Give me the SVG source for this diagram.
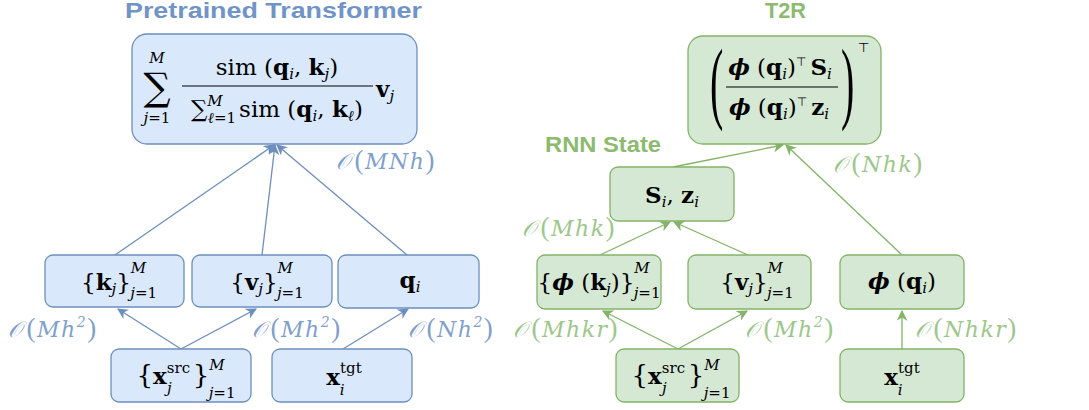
<svg xmlns="http://www.w3.org/2000/svg" width="1089" height="410" viewBox="0 0 1089 410">
<defs>
<style>
.bn{fill:#dae8fc;stroke:#6c8ebf;stroke-width:1.3}
.gn{fill:#d5e8d4;stroke:#82b366;stroke-width:1.3}
.m{font-family:"DejaVu Serif","Liberation Serif",serif;fill:#000;font-size:23px}
.c{text-anchor:middle}
.b{font-weight:bold}
.it{font-style:italic}
.s{font-size:15px}
.t{font-family:"DejaVu Sans",sans-serif;font-size:12px;font-style:normal;font-weight:normal}
.bl{stroke:#6c8ebf;stroke-width:1.3;fill:none}
.gl{stroke:#82b366;stroke-width:1.3;fill:none}
.lb{font-family:"DejaVu Serif","Liberation Serif",serif;font-size:22px;font-style:italic;fill:#7f9fcc;letter-spacing:1.5px}
.lg{font-family:"DejaVu Serif","Liberation Serif",serif;font-size:22px;font-style:italic;fill:#9cc78a;letter-spacing:1.5px}
.p{font-size:27px;font-style:normal;font-family:"Liberation Serif",serif}
.bp{font-family:"Liberation Serif",serif;font-size:40px;fill:#000}
.title{font-family:"Liberation Sans",Arial,sans-serif;font-weight:bold;font-size:22px}
</style>
<marker id="ab" viewBox="0 0 10 10" refX="9" refY="5" markerWidth="11" markerHeight="11" markerUnits="userSpaceOnUse" orient="auto"><path d="M0,0 L10,5 L0,10 L3,5 z" fill="#6c8ebf"/></marker>
<marker id="ag" viewBox="0 0 10 10" refX="9" refY="5" markerWidth="11" markerHeight="11" markerUnits="userSpaceOnUse" orient="auto"><path d="M0,0 L10,5 L0,10 L3,5 z" fill="#82b366"/></marker>
</defs>

<text class="title" x="125" y="18" textLength="297" lengthAdjust="spacingAndGlyphs" fill="#7094c8">Pretrained Transformer</text>
<text class="title" x="765" y="18" textLength="41" lengthAdjust="spacingAndGlyphs" fill="#8cbb70">T2R</text>
<text class="title" x="545" y="152" textLength="116" lengthAdjust="spacingAndGlyphs" fill="#8cbb70">RNN State</text>

<g id="connectors">
<line class="bl" x1="115" y1="255" x2="274" y2="145" marker-end="url(#ab)"/>
<line class="bl" x1="262" y1="255" x2="275" y2="145" marker-end="url(#ab)"/>
<line class="bl" x1="407" y1="255" x2="277" y2="145" marker-end="url(#ab)"/>
<line class="bl" x1="181" y1="349" x2="118" y2="309" marker-end="url(#ab)"/>
<line class="bl" x1="181" y1="349" x2="256" y2="309" marker-end="url(#ab)"/>
<line class="bl" x1="343" y1="349" x2="408" y2="309" marker-end="url(#ab)"/>
<line class="gl" x1="673" y1="167" x2="783" y2="145" marker-end="url(#ag)"/>
<line class="gl" x1="902" y1="255" x2="786" y2="145" marker-end="url(#ag)"/>
<line class="gl" x1="600" y1="255" x2="670" y2="222" marker-end="url(#ag)"/>
<line class="gl" x1="748" y1="255" x2="674" y2="222" marker-end="url(#ag)"/>
<line class="gl" x1="678" y1="349" x2="603" y2="311" marker-end="url(#ag)"/>
<line class="gl" x1="678" y1="349" x2="747" y2="311" marker-end="url(#ag)"/>
<line class="gl" x1="902" y1="349" x2="902" y2="311" marker-end="url(#ag)"/>
</g>

<g id="labels">
<text class="lb" x="336" y="169">𝒪<tspan class="p" dx="3">(</tspan>MNh<tspan class="p">)</tspan></text>
<text class="lb" x="8" y="337">𝒪<tspan class="p" dx="3">(</tspan>Mh<tspan font-size="14" dy="-10">2</tspan><tspan class="p" dy="10">)</tspan></text>
<text class="lb" x="252" y="337">𝒪<tspan class="p" dx="3">(</tspan>Mh<tspan font-size="14" dy="-10">2</tspan><tspan class="p" dy="10">)</tspan></text>
<text class="lb" x="408" y="337">𝒪<tspan class="p" dx="3">(</tspan>Nh<tspan font-size="14" dy="-10">2</tspan><tspan class="p" dy="10">)</tspan></text>
<text class="lg" x="833" y="172">𝒪<tspan class="p" dx="3">(</tspan>Nhk<tspan class="p">)</tspan></text>
<text class="lg" x="522" y="236">𝒪<tspan class="p" dx="3">(</tspan>Mhk<tspan class="p">)</tspan></text>
<text class="lg" x="513" y="337">𝒪<tspan class="p" dx="3">(</tspan>Mhkr<tspan class="p">)</tspan></text>
<text class="lg" x="745" y="337">𝒪<tspan class="p" dx="3">(</tspan>Mh<tspan font-size="14" dy="-10">2</tspan><tspan class="p" dy="10">)</tspan></text>
<text class="lg" x="915" y="337">𝒪<tspan class="p" dx="3">(</tspan>Nhkr<tspan class="p">)</tspan></text>
</g>

<g id="attn">
<rect class="bn" x="132" y="34" width="285" height="110" rx="15"/>
<text class="m c"><tspan x="157" y="100" font-size="38">∑</tspan><tspan class="it s" x="157" y="63">M</tspan><tspan class="s" x="157" y="123"><tspan class="it">j</tspan>=1</tspan></text>
<text class="m c" x="277" y="75">sim (<tspan class="b">q</tspan><tspan class="it s" dy="4">i</tspan><tspan dy="-4">, </tspan><tspan class="b">k</tspan><tspan class="it s" dy="4">j</tspan><tspan dy="-4">)</tspan></text>
<line x1="182" y1="86" x2="373" y2="86" stroke="#000" stroke-width="1.2"/>
<text class="m c" x="277" y="117">∑<tspan class="it s" dy="-11">M</tspan><tspan class="s" dx="-15" dy="17"><tspan class="it">ℓ</tspan>=1</tspan><tspan dy="-6" dx="3">sim (</tspan><tspan class="b">q</tspan><tspan class="it s" dy="4">i</tspan><tspan dy="-4">, </tspan><tspan class="b">k</tspan><tspan class="it s" dy="4">ℓ</tspan><tspan dy="-4">)</tspan></text>
<text class="m" x="376" y="97"><tspan class="b">v</tspan><tspan class="it s" dy="4">j</tspan></text>
</g>

<g id="kset">
<rect class="bn" x="45" y="255" width="139" height="52" rx="8"/>
<text class="m c" x="119" y="290">{<tspan class="b">k</tspan><tspan class="it s" dy="4">j</tspan><tspan dy="-4">}</tspan><tspan class="it s" dy="-17">M</tspan><tspan class="s" dx="-16" dy="25"><tspan class="it">j</tspan>=1</tspan></text>
</g>
<g id="vset">
<rect class="bn" x="192" y="255" width="140" height="52" rx="8"/>
<text class="m c" x="267" y="290">{<tspan class="b">v</tspan><tspan class="it s" dy="4">j</tspan><tspan dy="-4">}</tspan><tspan class="it s" dy="-17">M</tspan><tspan class="s" dx="-16" dy="25"><tspan class="it">j</tspan>=1</tspan></text>
</g>
<g id="qnode">
<rect class="bn" x="338" y="255" width="141" height="53" rx="8"/>
<text class="m c" x="410" y="288"><tspan class="b">q</tspan><tspan class="it s" dy="4">i</tspan></text>
</g>
<g id="xsrc">
<rect class="bn" x="111" y="349" width="140" height="53" rx="8"/>
<text class="m c" x="186" y="384"><tspan font-size="26">{</tspan><tspan class="b">x</tspan><tspan class="s" dy="-11">src</tspan><tspan class="it s" dx="-23" dy="20">j</tspan><tspan font-size="26" dx="21" dy="-9">}</tspan><tspan class="it s" dy="-14">M</tspan><tspan class="s" dx="-16" dy="28"><tspan class="it">j</tspan>=1</tspan></text>
</g>
<g id="xtgt">
<rect class="bn" x="272" y="349" width="140" height="53" rx="8"/>
<text class="m c" x="344" y="385"><tspan class="b">x</tspan><tspan class="s" dy="-12">tgt</tspan><tspan class="it s" dx="-22" dy="22">i</tspan><tspan class="s" dx="17" dy="0"> </tspan></text>
</g>

<g id="t2r">
<rect class="gn" x="688" y="36" width="193" height="108" rx="15"/>
<text class="bp" x="710" y="112" transform="translate(0,112) scale(1,2.3) translate(0,-112)">(</text>
<text class="m c" x="780" y="75"><tspan class="it b">ϕ</tspan> (<tspan class="b">q</tspan><tspan class="it s" dy="4">i</tspan><tspan dy="-4">)</tspan><tspan class="t" dy="-9">⊤</tspan><tspan dy="9" dx="4" class="b">S</tspan><tspan class="it s" dy="4">i</tspan></text>
<line x1="726" y1="87" x2="838" y2="87" stroke="#000" stroke-width="1.2"/>
<text class="m c" x="779" y="115"><tspan class="it b">ϕ</tspan> (<tspan class="b">q</tspan><tspan class="it s" dy="4">i</tspan><tspan dy="-4">)</tspan><tspan class="t" dy="-9">⊤</tspan><tspan dy="9" dx="4" class="b">z</tspan><tspan class="it s" dy="4">i</tspan></text>
<text class="bp" x="841" y="112" transform="translate(0,112) scale(1,2.3) translate(0,-112)">)</text>
<text class="t" x="858" y="52" style="font-size:13px">⊤</text>
</g>

<g id="state">
<rect class="gn" x="610" y="167" width="124" height="54" rx="8"/>
<text class="m c" x="672" y="203"><tspan class="b">S</tspan><tspan class="it s" dy="4">i</tspan><tspan dy="-4">, </tspan><tspan class="b">z</tspan><tspan class="it s" dy="4">i</tspan></text>
</g>
<g id="phik">
<rect class="gn" x="537" y="255" width="124" height="54" rx="8"/>
<text class="m c" x="599" y="290">{<tspan class="it b">ϕ</tspan> (<tspan class="b">k</tspan><tspan class="it s" dy="4">j</tspan><tspan dy="-4">)}</tspan><tspan class="it s" dy="-17">M</tspan><tspan class="s" dx="-16" dy="25"><tspan class="it">j</tspan>=1</tspan></text>
</g>
<g id="vset2">
<rect class="gn" x="688" y="255" width="123" height="54" rx="8"/>
<text class="m c" x="757" y="290">{<tspan class="b">v</tspan><tspan class="it s" dy="4">j</tspan><tspan dy="-4">}</tspan><tspan class="it s" dy="-17">M</tspan><tspan class="s" dx="-16" dy="25"><tspan class="it">j</tspan>=1</tspan></text>
</g>
<g id="phiq">
<rect class="gn" x="840" y="255" width="124" height="54" rx="8"/>
<text class="m c" x="902" y="289"><tspan class="it b">ϕ</tspan> (<tspan class="b">q</tspan><tspan class="it s" dy="4">i</tspan><tspan dy="-4">)</tspan></text>
</g>
<g id="xsrc2">
<rect class="gn" x="616" y="349" width="123" height="53" rx="8"/>
<text class="m c" x="681" y="384"><tspan font-size="26">{</tspan><tspan class="b">x</tspan><tspan class="s" dy="-11">src</tspan><tspan class="it s" dx="-23" dy="20">j</tspan><tspan font-size="26" dx="21" dy="-9">}</tspan><tspan class="it s" dy="-14">M</tspan><tspan class="s" dx="-16" dy="28"><tspan class="it">j</tspan>=1</tspan></text>
</g>
<g id="xtgt2">
<rect class="gn" x="840" y="349" width="124" height="53" rx="8"/>
<text class="m c" x="902" y="385"><tspan class="b">x</tspan><tspan class="s" dy="-12">tgt</tspan><tspan class="it s" dx="-22" dy="22">i</tspan><tspan class="s" dx="17" dy="0"> </tspan></text>
</g>
</svg>
